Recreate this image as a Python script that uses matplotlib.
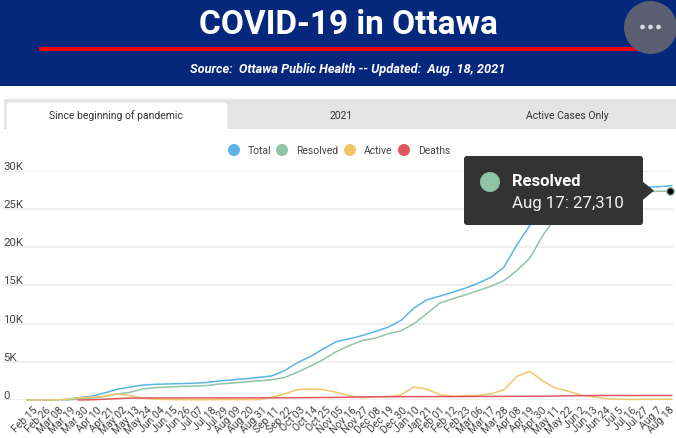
import matplotlib
matplotlib.use("Agg")
from matplotlib import pyplot as plt
from matplotlib.patches import Rectangle, Circle, FancyBboxPatch, Polygon, Ellipse
from matplotlib.transforms import ScaledTranslation

plt.rcParams['font.family'] = ['Roboto', 'DejaVu Sans']

nan = float('nan')

tick_labels = ["Feb 15", "Feb 26", "Mar 08", "Mar 19", "Mar 30", "Apr 10", "Apr 21", "May 02", "May 13",
               "May 24", "Jun 04", "Jun 15", "Jun 26", "Jul 07", "Jul 18", "Jul 29", "Aug 09", "Aug 20",
               "Aug 31", "Sep 11", "Sep 22", "Oct 03", "Oct 14", "Oct 25", "Nov 05", "Nov 16", "Nov 27",
               "Dec 08", "Dec 19", "Dec 30", "Jan 10", "Jan 21", "Feb 01", "Feb 12", "Feb 23", "Mar 06",
               "Mar 17", "Mar 28", "Apr 08", "Apr 19", "Apr 30", "May 11", "May 22", "Jun 2", "Jun 13",
               "Jun 24", "Jul 5", "Jul 16", "Jul 27", "Aug 7", "Aug 18"]

total = [0, 0, 5, 50, 300, 480, 900, 1400, 1700, 1950, 2050, 2100, 2150, 2200, 2300, 2500, 2650,
         2780, 2950, 3150, 3850, 4900, 5700, 6700, 7640, 8000, 8430, 8950, 9520, 10390, 12000, 13100,
         13580, 14100, 14630, 15280, 16070, 17380, 20300, 22830, 24800, 26000, 26900, 27300, 27500,
         27650, 27750, 27800, 27850, 27900, 28050]
resolved = [nan, nan, nan, 0, 100, 250, 450, 780, 1000, 1450, 1620, 1700, 1780, 1830, 1900, 2100, 2230,
            2380, 2500, 2650, 2950, 3650, 4450, 5300, 6330, 7120, 7770, 8080, 8650, 9040, 9960, 11270,
            12660, 13230, 13750, 14320, 14890, 15630, 16940, 18560, 21500, 23900, 25500, 26400, 26900,
            27100, 27200, 27250, 27280, 27300, 27350]
active = [0, 0, 5, 60, 280, 350, 500, 800, 570, 220, 100, 60, 40, 30, 40, 60, 60, 50, 50, 350, 800,
          1350, 1440, 1350, 1000, 570, 300, 450, 450, 650, 1700, 1450, 700, 480, 560, 600, 800, 1350,
          3100, 3750, 2500, 1550, 1150, 600, 400, 170, 90, 70, 90, 90, 100]
deaths = [nan, nan, nan, nan, 5, 30, 100, 180, 250, 260, 265, 265, 270, 270, 275, 275, 280, 280, 285,
          290, 295, 300, 310, 330, 340, 360, 400, 410, 420, 430, 440, 445, 450, 450, 460, 465, 470,
          475, 480, 490, 500, 520, 550, 570, 585, 590, 590, 590, 590, 590, 590]

series_names = ["Total", "Resolved", "Active", "Deaths"]
series_colors = ["#5ab4e6", "#8fc4a6", "#f0c766", "#e0575f"]

y_ticks = [0, 5000, 10000, 15000, 20000, 25000, 30000]
y_tick_labels = ["0", "5K", "10K", "15K", "20K", "25K", "30K"]

tooltip_name = "Resolved"
tooltip_date = "Aug 17"
tooltip_value = 27310

W, H = 676, 439
fig = plt.figure(figsize=(W / 100, H / 100), dpi=100, facecolor='white')

# main chart, placed in pixels so the gridlines land where they should
left, right, top, bottom = 3, 673, 171.7, 401
ax = fig.add_axes([left / W, 1 - bottom / H, (right - left) / W, (bottom - top) / H])
x_step = 12.9
ax.set_xlim((left - 26.7) / x_step, (right - 26.7) / x_step)
ax.set_ylim(0, 30000)
for s in ax.spines.values():
    s.set_visible(False)
ax.patch.set_alpha(0)

xs = list(range(len(tick_labels)))
for vals, name, col in zip([total, resolved, active, deaths], series_names, series_colors):
    ax.plot(xs, vals, color=col, lw=1.1, label=name, clip_on=False, solid_joinstyle='round')

ax.set_yticks(y_ticks)
ax.set_yticklabels(y_tick_labels, ha='left', va='bottom', fontsize=8.2, color='#444444')
ax.tick_params(axis='y', length=0, pad=0)
ax.grid(axis='y', color='#ebebeb', lw=1.2)
ax.set_axisbelow(True)

ax.set_xticks(xs)
ax.set_xticklabels(tick_labels, rotation=45, ha='right', rotation_mode='anchor', fontsize=7.5, color='#444444')
ax.tick_params(axis='x', length=0, pad=3)
# labels sit a little right of their ticks, less so toward the right edge
for i, lab in enumerate(ax.get_xticklabels()):
    dx = (6 - i * 0.17) / 100
    lab.set_transform(lab.get_transform() + ScaledTranslation(dx, 0, fig.dpi_scale_trans))

# page furniture in pixel coordinates
ov = fig.add_axes([0, 0, 1, 1], zorder=5)
ov.set_xlim(0, W)
ov.set_ylim(H, 0)
ov.axis('off')

ov.add_patch(Rectangle((0, 0), W, 87, color='#05277c', lw=0))
ov.add_patch(Rectangle((39, 47.7), 605, 4, color='#f20000', lw=0))
ov.text(348, 25, "COVID-19 in Ottawa", color='white', fontsize=24, fontweight='bold', ha='center', va='center')
ov.text(348, 69, "Source:  Ottawa Public Health -- Updated:  Aug. 18, 2021", color='white', fontsize=9.2,
        fontweight='bold', style='italic', ha='center', va='center')
ov.add_patch(Ellipse((650.5, 28.5), 53, 53, color='#5a5f72', lw=0))
for dx in (-8, 0, 8):
    ov.add_patch(Circle((650.5 + dx, 28), 2.3, color='#dcdde2', lw=0))

# tabs
ov.add_patch(Rectangle((4, 100), W - 4, 30, color='#e4e4e4', lw=0))
ov.add_patch(FancyBboxPatch((8, 105), 218, 30, boxstyle="round,pad=0,rounding_size=2", color='white', lw=2))
ov.add_patch(Rectangle((5, 130), W, 4, color='white', lw=0))
ov.text(116, 116, "Since beginning of pandemic", fontsize=7.5, color='#333333', ha='center', va='center')
ov.text(341, 116, "2021", fontsize=7.5, color='#333333', ha='center', va='center')
ov.text(567, 116, "Active Cases Only", fontsize=7.5, color='#333333', ha='center', va='center')

# legend
legend_dots = [234, 282, 350, 404]
for cx, name, col in zip(legend_dots, series_names, series_colors):
    ov.add_patch(Circle((cx, 151), 6, color=col, lw=0))
    ov.text(cx + 14, 151.5, name, fontsize=7.5, color='#444444', ha='left', va='center')

# tooltip
ov.add_patch(FancyBboxPatch((466, 159), 175, 65, boxstyle="round,pad=2,rounding_size=3", color='#333333', lw=0))
ov.add_patch(Polygon([(642, 182), (654, 191.7), (642, 201.6)], color='#333333', lw=0))
ov.add_patch(Circle((490, 183), 10, color=series_colors[1], lw=0))
ov.text(512, 182, tooltip_name, color='white', fontsize=12, fontweight='bold', ha='left', va='center')
ov.text(512, 204, f"{tooltip_date}: {tooltip_value:,}", color='#f2f2f2', fontsize=12.2, ha='left', va='center')

# hovered point
ax.plot([49.9], [tooltip_value], 'o', ms=5.5, color='black', mec=series_colors[1], mew=1, clip_on=False, zorder=6)

fig.savefig("out.png", dpi=100)
